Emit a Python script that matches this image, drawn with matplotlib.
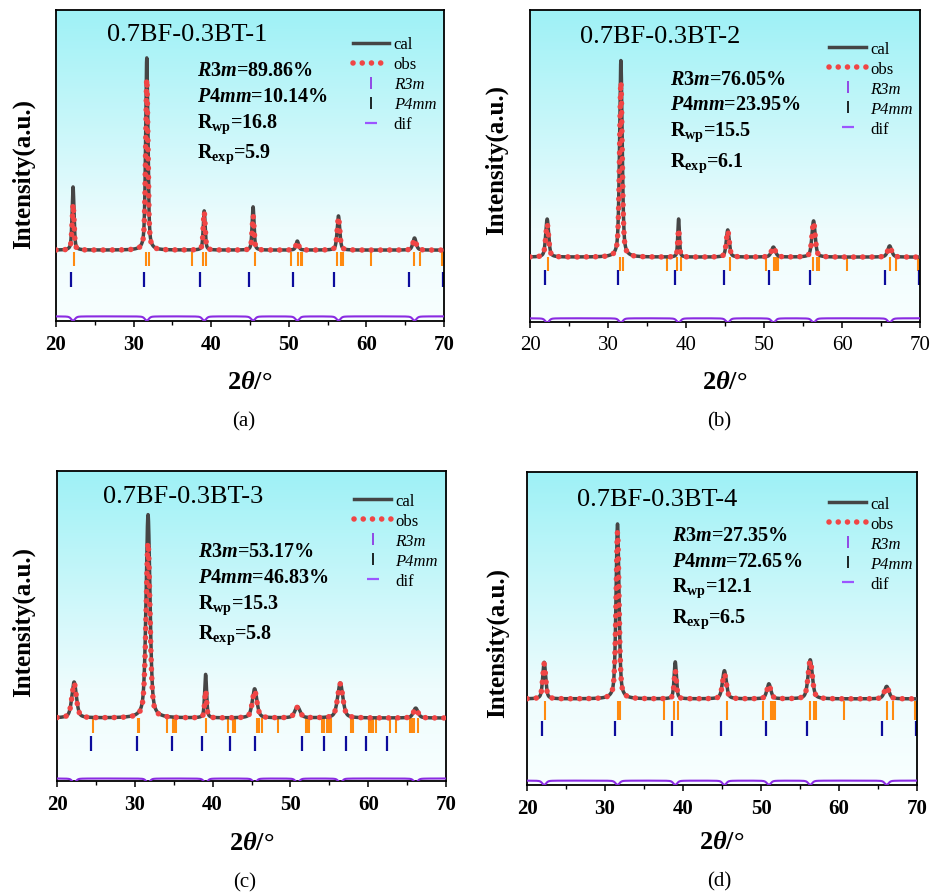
import numpy as np
import matplotlib.pyplot as plt
from matplotlib.colors import LinearSegmentedColormap
from matplotlib.lines import Line2D

plt.rcParams['font.family'] = 'Liberation Serif'
plt.rcParams['mathtext.fontset'] = 'custom'
plt.rcParams['mathtext.rm'] = 'Liberation Serif:bold'
plt.rcParams['mathtext.it'] = 'Liberation Serif:italic:bold'
plt.rcParams['mathtext.bf'] = 'Liberation Serif:bold'

# ---- data ----
samples = ['0.7BF-0.3BT-1', '0.7BF-0.3BT-2', '0.7BF-0.3BT-3', '0.7BF-0.3BT-4']
letters = ['(a)', '(b)', '(c)', '(d)']
r3m_pct = ['89.86', '76.05', '53.17', '27.35']
p4mm_pct = ['10.14', '23.95', '46.83', '72.65']
rwp = ['16.8', '15.5', '15.3', '12.1']
rexp = ['5.9', '6.1', '5.8', '6.5']

# peak list per sample: position (deg), calc height, obs height, fwhm (deg)
peak_pos = [
    [22.2, 31.7, 39.1, 45.4, 51.1, 56.4, 66.2],
    [22.2, 31.65, 39.05, 45.35, 51.2, 56.35, 66.1],
    [22.2, 31.7, 39.1, 45.4, 50.9, 56.4, 66.1],
    [22.2, 31.6, 39.0, 45.3, 51.0, 56.3, 66.1],
]
cal_height = [
    [20.3, 61.8, 12.6, 13.9, 2.9, 11.0, 3.9],
    [12.2, 63.0, 12.2, 8.7, 3.2, 11.6, 3.6],
    [11.6, 65.6, 14.0, 9.4, 3.6, 11.3, 3.2],
    [11.7, 55.9, 11.8, 9.0, 4.8, 12.5, 4.0],
]
obs_height = [
    [14.8, 55.0, 12.2, 11.0, 2.7, 10.6, 3.5],
    [10.6, 56.1, 9.0, 8.4, 3.2, 11.2, 3.3],
    [11.2, 56.5, 8.8, 8.8, 3.4, 11.0, 3.0],
    [11.2, 53.3, 9.0, 8.0, 4.5, 12.2, 3.8],
]
peak_fwhm = [
    [0.3, 0.35, 0.3, 0.3, 0.4, 0.4, 0.5],
    [0.45, 0.4, 0.25, 0.45, 0.6, 0.5, 0.6],
    [0.7, 0.6, 0.3, 0.7, 0.8, 0.8, 0.7],
    [0.45, 0.45, 0.35, 0.6, 0.6, 0.65, 0.7],
]
background = [22.8, 20.8, 20.3, 27.5]
dif_dip = [1.4, 1.4, 1.4, 1.4]

# reflection markers
p4mm_ticks_std = [22.32, 31.6, 31.95, 37.53, 38.9, 39.37, 45.64, 50.25, 51.22,
                  51.53, 51.74, 56.25, 56.77, 57.02, 60.6, 66.17, 66.9, 69.7]
r3m_ticks_std = [21.93, 31.34, 38.6, 44.9, 50.58, 55.86, 65.49, 69.9]
p4mm_ticks_c = [24.59, 30.37, 30.58, 34.1, 34.87, 35.08, 35.3, 39.15, 42.02,
                42.66, 42.88, 45.74, 46.0, 46.31, 48.44, 51.97, 52.17, 52.43,
                54.1, 54.32, 54.66, 54.96, 55.22, 57.79, 58.0, 60.1, 60.32,
                60.65, 60.96, 62.8, 63.53, 65.37, 65.67, 65.92, 66.36]
r3m_ticks_c = [24.37, 30.24, 34.82, 38.68, 42.24, 45.45, 51.45, 54.32, 57.1,
               59.72, 62.38]
orange_ticks = [p4mm_ticks_std, p4mm_ticks_std, p4mm_ticks_c, p4mm_ticks_std]
blue_ticks = [r3m_ticks_std, r3m_ticks_std, r3m_ticks_c, r3m_ticks_std]

# ---- layout ----
axes_rect = [
    [0.0602, 0.6402, 0.4172, 0.3475],
    [0.5699, 0.6391, 0.4194, 0.3486],
    [0.0613, 0.1263, 0.4183, 0.3464],
    [0.5667, 0.1218, 0.4194, 0.3497],
]
orange_y = [(17.7, 22.2), (16.3, 20.8), (15.5, 20.3), (20.9, 26.9)]
blue_y = [(10.9, 15.8), (11.9, 16.7), (9.7, 14.5), (15.5, 20.3)]
dif_y = [1.5, 1.2, 0.8, 1.4]
title_xy = [(0.131, 0.923), (0.128, 0.917), (0.119, 0.92), (0.127, 0.914)]
stats_x = [0.363, 0.359, 0.363, 0.371]
stats_y = [(0.791, 0.708, 0.623, 0.528), (0.763, 0.683, 0.599, 0.501),
           (0.725, 0.641, 0.558, 0.46), (0.784, 0.701, 0.619, 0.52)]
legend_xy = [(0.765, 0.915), (0.767, 0.901), (0.764, 0.928), (0.775, 0.924)]
ylabel_xy = [(-0.085, 0.476), (-0.085, 0.522), (-0.087, 0.516), (-0.075, 0.457)]
xlabel_y = [-0.196, -0.192, -0.197, -0.182]
letter_xy = [(0.454, -0.322), (0.454, -0.317), (0.452, -0.326), (0.462, -0.307)]
bold_ticks = [True, False, True, True]

bg_cmap = LinearSegmentedColormap.from_list(
    'bg', [(0.0, '#f8ffff'), (0.3, '#eefcfd'), (1.0, '#9ef1f6')])

CAL_C = '#454545'
OBS_C = '#f04545'
ORANGE = '#ff8a10'
NAVY = '#0c0c9c'
DIF_C = '#8a2be2'
OBS_LW = 4.0
OBS_DOTS = (0, (0.01, 1.65))

x = np.linspace(20, 70, 5001)


def pvoigt(xx, c, h, w):
    g = np.exp(-4 * np.log(2) * ((xx - c) / w) ** 2)
    l = 1.0 / (1 + ((xx - c) / (w / 2)) ** 2)
    return h * (0.5 * g + 0.5 * l)


fig = plt.figure(figsize=(9.3, 8.95), dpi=100)

for i in range(4):
    ax = fig.add_axes(axes_rect[i])
    ax.set_xlim(20, 70)
    ax.set_ylim(0, 100)

    ax.imshow(np.linspace(0, 1, 256).reshape(-1, 1), cmap=bg_cmap,
              origin='lower', extent=[20, 70, 0, 100], aspect='auto', zorder=0)

    cal = np.full_like(x, background[i])
    obs = np.full_like(x, background[i])
    dif = np.full_like(x, dif_y[i])
    for c, hc, ho, w in zip(peak_pos[i], cal_height[i], obs_height[i], peak_fwhm[i]):
        cal += pvoigt(x, c, hc, w)
        obs += pvoigt(x, c, ho, w)
        dif -= pvoigt(x, c, dif_dip[i], 0.6)

    ax.plot(x, cal, color=CAL_C, lw=2.5, zorder=3)
    ax.plot(x, obs, color=OBS_C, lw=OBS_LW, linestyle=OBS_DOTS,
            dash_capstyle='round', zorder=4)
    ax.plot(x, dif, color=DIF_C, lw=1.5, zorder=3)

    ax.vlines(orange_ticks[i], orange_y[i][0], orange_y[i][1], color=ORANGE, lw=1.5, zorder=2)
    ax.vlines(blue_ticks[i], blue_y[i][0], blue_y[i][1], color=NAVY, lw=1.6, zorder=2)

    # axes styling
    ax.set_yticks([])
    ax.set_xticks(np.arange(20, 71, 10))
    ax.set_xticks(np.arange(25, 70, 10), minor=True)
    ax.tick_params(axis='x', which='major', direction='out', length=4.5, width=1.1,
                   labelsize=15, pad=5)
    ax.tick_params(axis='x', which='minor', direction='out', length=3, width=1.0)
    for lab in ax.get_xticklabels():
        lab.set_fontweight('bold' if bold_ticks[i] else 'normal')
    for s in ax.spines.values():
        s.set_linewidth(1.3)

    ax.text(title_xy[i][0], title_xy[i][1], samples[i], transform=ax.transAxes,
            fontsize=19, ha='left', va='center', zorder=6)

    sx = stats_x[i]
    sy = stats_y[i]
    ax.text(sx, sy[0], r'$R3m$=' + r3m_pct[i] + '%', transform=ax.transAxes,
            fontsize=14.5, fontweight='bold', va='baseline', zorder=6)
    ax.text(sx, sy[1], r'$P4mm$=' + p4mm_pct[i] + '%', transform=ax.transAxes,
            fontsize=14.5, fontweight='bold', va='baseline', zorder=6)
    ax.text(sx, sy[2], r'R$_{\mathbf{wp}}$=' + rwp[i], transform=ax.transAxes,
            fontsize=14.5, fontweight='bold', va='baseline', zorder=6)
    ax.text(sx, sy[3], r'R$_{\mathbf{exp}}$=' + rexp[i], transform=ax.transAxes,
            fontsize=14.5, fontweight='bold', va='baseline', zorder=6)

    handles = [
        Line2D([], [], color=CAL_C, lw=2.5),
        Line2D([], [], color=OBS_C, lw=OBS_LW, linestyle=OBS_DOTS,
               dash_capstyle='round'),
        Line2D([], [], ls='none', marker='|', color='#8a2be2', markersize=8, mew=1.2),
        Line2D([], [], ls='none', marker='|', color='black', markersize=8, mew=1.2),
        Line2D([], [], ls='none', marker='_', color='#9b55ff', markersize=9, mew=1.6),
    ]
    leg = ax.legend(handles, ['cal', 'obs', 'R3m', 'P4mm', 'dif'],
                    loc='upper left', bbox_to_anchor=legend_xy[i],
                    frameon=False, fontsize=12, handlelength=2.2,
                    handletextpad=0.25, labelspacing=0.24, borderpad=0,
                    borderaxespad=0)
    leg.set_zorder(6)
    leg.get_texts()[2].set_fontstyle('italic')
    leg.get_texts()[3].set_fontstyle('italic')

    ax.text(ylabel_xy[i][0], ylabel_xy[i][1], 'Intensity(a.u.)', transform=ax.transAxes,
            rotation=90, fontsize=18, fontweight='bold', ha='center', va='center')
    ax.text(0.5, xlabel_y[i], r'2$\mathit{θ}$/°', transform=ax.transAxes,
            fontsize=19, fontweight='bold', ha='center', va='center')
    ax.text(letter_xy[i][0], letter_xy[i][1], letters[i], transform=ax.transAxes,
            fontsize=15, ha='left', va='center')

plt.savefig('out.png', dpi=100)
